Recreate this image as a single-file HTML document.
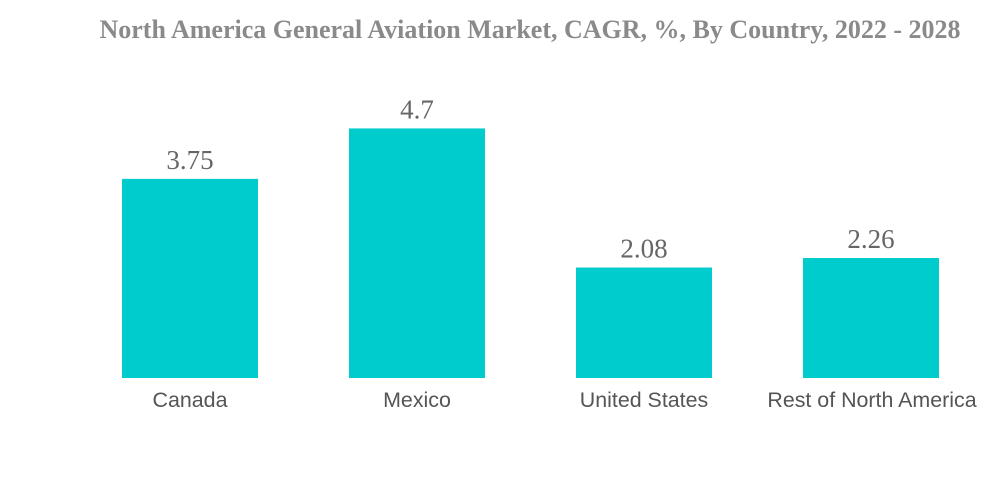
<!DOCTYPE html>
<html><head><meta charset="utf-8"><style>
body{margin:0;background:#fff;width:1000px;height:483px;overflow:hidden}
</style></head><body>
<svg width="1000" height="483">
<text x="530" y="38" text-anchor="middle" font-family="Liberation Serif, serif" font-weight="bold" font-size="26" fill="#8a8a8a">North America General Aviation Market, CAGR, %, By Country, 2022 - 2028</text>
<g id="bars"></g>
</svg>
<script>
const categories=["Canada","Mexico","United States","Rest of North America"];
const values=[3.75,4.7,2.08,2.26];
const valueLabels=["3.75","4.7","2.08","2.26"];
const base=378, scale=53.1, left=122, step=227, bw=136;
const y=v=>base-v*scale;
const g=document.getElementById('bars');
const ns="http://www.w3.org/2000/svg";
categories.forEach((c,i)=>{
  const x=left+i*step;
  const r=document.createElementNS(ns,'rect');
  r.setAttribute('x',x);r.setAttribute('y',y(values[i]));
  r.setAttribute('width',bw);r.setAttribute('height',base-y(values[i]));
  r.setAttribute('fill','#00cccd');
  
  
  g.appendChild(r);
  const t=document.createElementNS(ns,'text');
  t.setAttribute('x',x+bw/2);t.setAttribute('y',y(values[i])-10);
  t.setAttribute('text-anchor','middle');t.setAttribute('font-family','Liberation Serif, serif');
  t.setAttribute('font-size','27');t.setAttribute('fill','#666');
  t.textContent=valueLabels[i];
  
  
  g.appendChild(t);
  const l=document.createElementNS(ns,'text');
  l.setAttribute('x',x+bw/2+(i==3?1:0));l.setAttribute('y',407);
  l.setAttribute('text-anchor','middle');l.setAttribute('font-family','Liberation Sans, sans-serif');
  l.setAttribute('font-size','21.4');l.setAttribute('fill','#555');
  l.textContent=c;
  
  
  g.appendChild(l);
});
</script>
</body></html>
